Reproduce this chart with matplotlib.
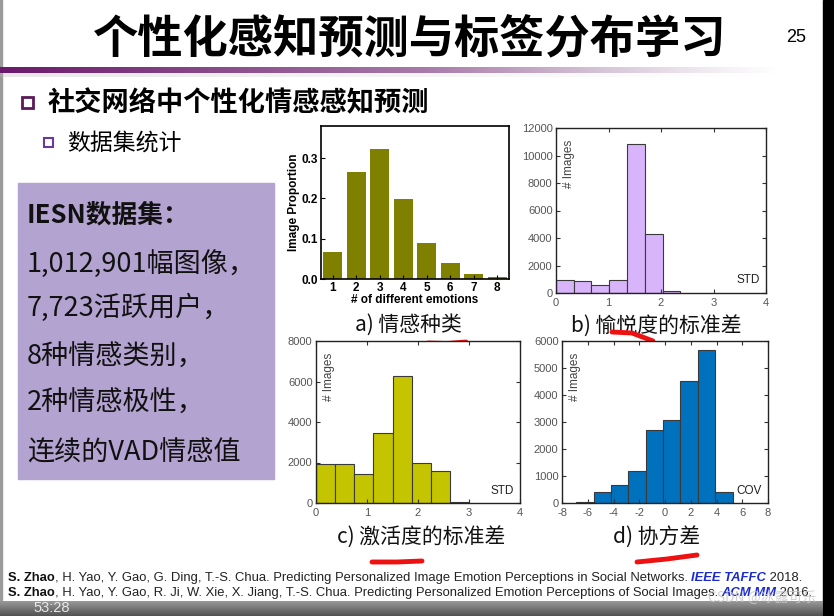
import numpy as np
import matplotlib
matplotlib.use("Agg")
import matplotlib.pyplot as plt
from matplotlib.patches import Rectangle

plt.rcParams['font.family'] = ['Noto Sans CJK SC', 'DejaVu Sans']
plt.rcParams['axes.unicode_minus'] = False

# ---------------- data ----------------
a_categories = [1, 2, 3, 4, 5, 6, 7, 8]
a_values = [0.068, 0.266, 0.323, 0.198, 0.089, 0.039, 0.013, 0.004]

b_edges = [0.0, 0.34, 0.67, 1.01, 1.35, 1.69, 2.03, 2.37]
b_counts = [945, 897, 606, 921, 10860, 4267, 145]

c_edges = [0.0, 0.375, 0.75, 1.125, 1.5, 1.875, 2.25, 2.625, 3.0]
c_counts = [1940, 1905, 1445, 3450, 6260, 1990, 1560, 50]

d_edges = [-6.9, -5.55, -4.2, -2.85, -1.5, -0.15, 1.2, 2.55, 3.9, 5.25]
d_counts = [25, 395, 677, 1170, 2710, 3090, 4530, 5665, 395]

title = "个性化感知预测与标签分布学习"
page_no = "25"
bullet1 = "社交网络中个性化情感感知预测"
bullet2 = "数据集统计"
box_lines = ["1,012,901幅图像，", "7,723活跃用户，", "8种情感类别，", "2种情感极性，", "连续的VAD情感值"]
box_head = "IESN数据集："
captions = ["a) 情感种类", "b) 愉悦度的标准差", "c) 激活度的标准差", "d) 协方差"]

W, H = 834, 616
fig = plt.figure(figsize=(W / 100, H / 100), dpi=100)
fig.patch.set_facecolor('white')

bg = fig.add_axes([0, 0, 1, 1], zorder=0)
bg.set_xlim(0, W)
bg.set_ylim(H, 0)
bg.axis('off')

# right black strip, left grey edge
bg.add_patch(Rectangle((823, 0), 11, H, color='black', zorder=1))
bg.add_patch(Rectangle((0, 0), 2.5, 600, color='#9a9a9a', zorder=1))

# title
bg.text(410, 40, title, fontsize=32.6, fontweight='bold', ha='center', va='center', color='black')
bg.text(796, 37, page_no, fontsize=13, ha='center', va='center', color='black',
        family=['Liberation Sans', 'DejaVu Sans'])

# gradient line under title
n = 400
grad = np.zeros((1, n, 4))
t = np.linspace(0, 1, n)
start = np.array([0.42, 0.10, 0.42])
end = np.array([0.85, 0.80, 0.86])
for i in range(3):
    grad[0, :, i] = start[i] + (end[i] - start[i]) * t
grad[0, :, 3] = np.clip(1.2 - t ** 3 * 1.2, 0, 1)
bg.imshow(grad, extent=(0, 780, 73, 67), aspect='auto', zorder=2)
shadow = np.zeros((1, n, 4))
shadow[0, :, :3] = 0.75
shadow[0, :, 3] = 0.35 * (1 - t)
bg.imshow(shadow, extent=(0, 760, 77, 73), aspect='auto', zorder=2)
bg.set_xlim(0, W)
bg.set_ylim(H, 0)

# bullets
bg.add_patch(Rectangle((22, 97), 11, 11, fill=False, edgecolor='#5a1a5a', lw=2, zorder=3))
bg.text(48, 103, bullet1, fontsize=19.6, fontweight='bold', ha='left', va='center', color='black')
bg.add_patch(Rectangle((44, 138), 9, 9, fill=False, edgecolor='#6a3a9a', lw=1.5, zorder=3))
bg.text(67, 143, bullet2, fontsize=16.5, ha='left', va='center', color='black')

# purple info box
bg.add_patch(Rectangle((18, 183), 256, 296, color='#b3a3d0', zorder=1))
bg.text(27, 215, box_head, fontsize=18.5, fontweight='bold', ha='left', va='center', color='#111111', zorder=3)
for y, s in zip([264, 308, 357, 403, 453], box_lines):
    bg.text(27, y, s, fontsize=19.5, ha='left', va='center', color='#111111', zorder=3)

# captions
for (x, y), s in zip([(408, 325), (656, 327), (421, 538), (657, 538)], captions):
    bg.text(x, y, s, fontsize=15, ha='center', va='center', color='#111111')

# red hand-drawn underlines
for xs, ys in [([428, 447, 466], [343, 343.5, 342]),
               ([612, 632, 653], [332, 333, 341]),
               ([372, 397, 422], [562, 562, 561]),
               ([637, 667, 697], [562, 559, 555])]:
    bg.plot(xs, ys, color='#ee1111', lw=3.5, solid_capstyle='round', zorder=4)

# footer references
ff = ['Liberation Sans', 'DejaVu Sans']
ref1 = [("S. Zhao", 'bold', 'normal', '#111111'),
        (", H. Yao, Y. Gao, G. Ding, T.-S. Chua. Predicting Personalized Image Emotion Perceptions in Social Networks. ", 'normal', 'normal', '#222222'),
        ("IEEE TAFFC", 'bold', 'italic', '#1a2ad0'),
        (" 2018.", 'normal', 'normal', '#222222')]
ref2 = [("S. Zhao", 'bold', 'normal', '#111111'),
        (", H. Yao, Y. Gao, R. Ji, W. Xie, X. Jiang, T.-S. Chua. Predicting Personalized Emotion Perceptions of Social Images. ", 'normal', 'normal', '#222222'),
        ("ACM MM", 'bold', 'italic', '#1a2ad0'),
        (" 2016.", 'normal', 'normal', '#222222')]

fig.canvas.draw()
renderer = fig.canvas.get_renderer()


def draw_runs(runs, x0, y0):
    x = x0
    for s, w, st, c in runs:
        tx = bg.text(x, y0, s, fontsize=9.35, fontweight=w, fontstyle=st, color=c,
                     ha='left', va='center', family=ff, zorder=3)
        bb = tx.get_window_extent(renderer=renderer)
        x += bb.width * W / fig.bbox.width


draw_runs(ref1, 8, 578)
draw_runs(ref2, 8, 593)

# bottom video bar
barg = np.zeros((16, 1, 4))
barg[:, 0, :3] = np.linspace(0.55, 0.25, 16)[:, None]
barg[:, 0, 3] = 0.9
bg.imshow(barg, extent=(0, 823, 616, 601), aspect='auto', zorder=5)
bg.text(33, 608.5, "53:28", fontsize=10.5, color='#e8e8e8', ha='left', va='center',
        family=['Liberation Sans', 'DejaVu Sans'], zorder=6)
bg.text(816, 598, "CSDN @冰露可乐", fontsize=10, color='#c8c8c8', ha='right', va='center', zorder=6, alpha=0.85)
bg.set_xlim(0, W)
bg.set_ylim(H, 0)


def pax(l, t, r, b):
    return fig.add_axes([l / W, 1 - b / H, (r - l) / W, (b - t) / H], zorder=2)


# ---------- chart a ----------
axa = pax(321, 126, 509, 279)
axa.bar(a_categories, a_values, width=0.8, color='#7f7f00')
axa.set_xlim(0.5, 8.5)
axa.set_ylim(0, 0.38)
axa.set_xticks(a_categories)
axa.set_yticks([0.0, 0.1, 0.2, 0.3])
axa.set_yticklabels(['0.0', '0.1', '0.2', '0.3'])
axa.tick_params(direction='in', length=3, labelsize=8.5, pad=2)
for lab in axa.get_xticklabels() + axa.get_yticklabels():
    lab.set_fontweight('bold')
    lab.set_family(['Liberation Sans', 'DejaVu Sans'])
axa.set_ylabel("Image Proportion", fontsize=8.5, fontweight='bold', labelpad=1,
               family=['Liberation Sans', 'DejaVu Sans'])
axa.set_xlabel("# of different emotions", fontsize=8.5, fontweight='bold', labelpad=0,
               family=['Liberation Sans', 'DejaVu Sans'])
for sp in axa.spines.values():
    sp.set_linewidth(1.2)


def matlab_hist(ax, edges, counts, color, xlim, ylim, xticks, yticks, label):
    ax.hist(np.array(edges[:-1]) + np.diff(edges) / 2, bins=edges, weights=counts,
            color=color, edgecolor='#3a3a3a', linewidth=0.8)
    ax.set_xlim(*xlim)
    ax.set_ylim(*ylim)
    ax.set_xticks(xticks)
    ax.set_yticks(yticks)
    ax.tick_params(direction='in', length=3, labelsize=8, colors='#333333',
                   top=True, right=True, labelcolor='#555555')
    ax.tick_params(axis='x', pad=3.5)
    ax.tick_params(axis='y', pad=2.5)
    for lab in ax.get_xticklabels() + ax.get_yticklabels():
        lab.set_family(['Liberation Sans', 'DejaVu Sans'])
    for sp in ax.spines.values():
        sp.set_linewidth(1.0)
        sp.set_color('#222222')
    ax.text(0.035, 0.93, "# Images", rotation=90, transform=ax.transAxes, ha='left', va='top',
            fontsize=8.5, color='#444444', family=['Liberation Sans', 'DejaVu Sans'])
    ax.text(0.97, 0.04, label, transform=ax.transAxes, ha='right', va='bottom',
            fontsize=8.5, color='#222222', family=['Liberation Sans', 'DejaVu Sans'])


axb = pax(556, 128, 766, 293)
matlab_hist(axb, b_edges, b_counts, '#d8b4fa', (0, 4), (0, 12000), [0, 1, 2, 3, 4],
            list(range(0, 12001, 2000)), "STD")

axc = pax(316, 341, 520, 503)
matlab_hist(axc, c_edges, c_counts, '#c4c400', (0, 4), (0, 8000), [0, 1, 2, 3, 4],
            list(range(0, 8001, 2000)), "STD")

axd = pax(562, 341, 768, 503)
matlab_hist(axd, d_edges, d_counts, '#0072bd', (-8, 8), (0, 6000), list(range(-8, 9, 2)),
            list(range(0, 6001, 1000)), "COV")

fig.savefig("out.png", dpi=100, facecolor='white')
